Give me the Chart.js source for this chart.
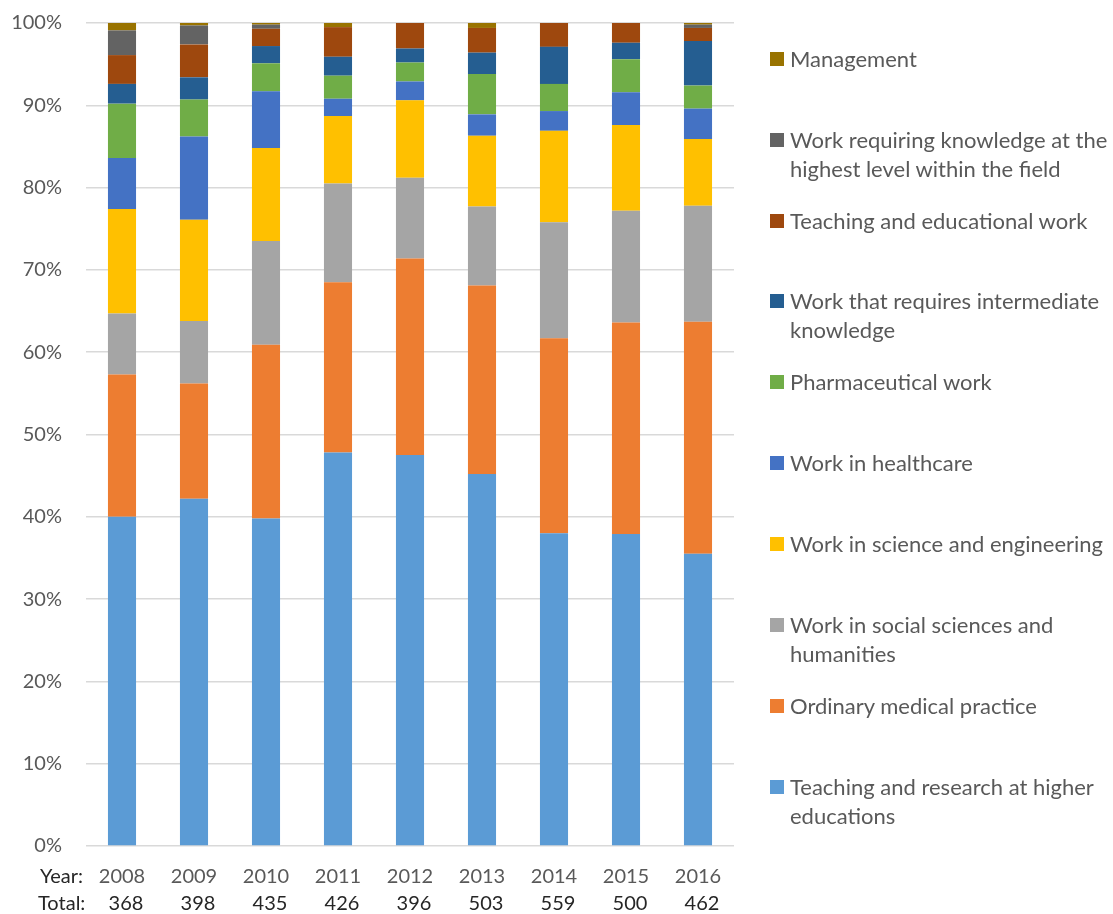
<!DOCTYPE html>
<html>
<head>
<meta charset="utf-8">
<script src="https://cdn.jsdelivr.net/npm/chart.js@4/dist/chart.umd.min.js"></script>
<style>
  body { margin: 0; background: #fff; overflow: hidden; }
  #wrap { position: relative; width: 1113px; height: 914px; }
  #legend { position: absolute; left: 0; top: 0; font-family: Lato, sans-serif; font-size: 22px; color: #595959; }
  .item { position: absolute; left: 770px; width: 330px; line-height: 29px; padding-left: 20px; }
  .box { position: absolute; left: 0; top: 8px; width: 14px; height: 14px; }
</style>
</head>
<body>
<div id="wrap">
  <canvas id="chart" width="1113" height="914"></canvas>
  <div id="legend"></div>
</div>
<script>
const years = ['2008', '2009', '2010', '2011', '2012', '2013', '2014', '2015', '2016'];
const totals = [368, 398, 435, 426, 396, 503, 559, 500, 462];

// shares in percent, bottom segment first
const teachingResearch = [40.0, 42.2, 39.8, 47.8, 47.5, 45.2, 38.0, 37.9, 35.5];
const medicalPractice  = [17.3, 14.0, 21.1, 20.7, 23.9, 22.9, 23.7, 25.7, 28.2];
const socialSciences   = [7.4, 7.6, 12.6, 12.0, 9.8, 9.6, 14.1, 13.6, 14.1];
const scienceEng       = [12.7, 12.3, 11.3, 8.2, 9.4, 8.6, 11.1, 10.4, 8.1];
const healthcare       = [6.2, 10.1, 6.9, 2.1, 2.3, 2.6, 2.4, 4.0, 3.7];
const pharmaceutical   = [6.6, 4.5, 3.4, 2.8, 2.3, 4.9, 3.3, 4.0, 2.8];
const intermediate     = [2.4, 2.7, 2.1, 2.3, 1.7, 2.6, 4.5, 2.0, 5.4];
const educational      = [3.5, 4.0, 2.1, 3.6, 3.1, 3.0, 2.9, 2.4, 1.6];
const highestLevel     = [3.0, 2.3, 0.5, 0, 0, 0, 0, 0, 0.4];
const management       = [0.9, 0.3, 0.2, 0.5, 0, 0.6, 0, 0, 0.2];

const series = [
  { label: 'Teaching and research at higher educations', data: teachingResearch, color: '#5B9BD5', top: 772 },
  { label: 'Ordinary medical practice', data: medicalPractice, color: '#ED7D31', top: 691 },
  { label: 'Work in social sciences and humanities', data: socialSciences, color: '#A5A5A5', top: 610 },
  { label: 'Work in science and engineering', data: scienceEng, color: '#FFC000', top: 529 },
  { label: 'Work in healthcare', data: healthcare, color: '#4472C4', top: 448 },
  { label: 'Pharmaceutical work', data: pharmaceutical, color: '#70AD47', top: 367 },
  { label: 'Work that requires intermediate knowledge', data: intermediate, color: '#255E91', top: 286 },
  { label: 'Teaching and educational work', data: educational, color: '#9E480E', top: 206 },
  { label: 'Work requiring knowledge at the highest level within the field', data: highestLevel, color: '#636363', top: 125 },
  { label: 'Management', data: management, color: '#997300', top: 44 }
];

const legend = document.getElementById('legend');
series.forEach(s => {
  const div = document.createElement('div');
  div.className = 'item';
  div.style.top = s.top + 'px';
  div.innerHTML = '<span class="box" style="background:' + s.color + '"></span>' + s.label;
  legend.appendChild(div);
});

const bottomLabels = {
  id: 'bottomLabels',
  afterDraw(chart) {
    const ctx = chart.ctx;
    const x = chart.scales.x;
    ctx.save();
    ctx.font = '20px Lato, sans-serif';
    ctx.textBaseline = 'middle';
    ctx.fillStyle = '#262626';
    ctx.textAlign = 'left';
    ctx.fillText('Year:', 40, 877);
    ctx.fillText('Total:', 38, 904);
    ctx.textAlign = 'center';
    totals.forEach((t, i) => {
      ctx.fillText(String(t), x.getPixelForValue(i) + 4, 904);
    });
    ctx.restore();
  }
};

new Chart(document.getElementById('chart'), {
  type: 'bar',
  data: {
    labels: years,
    datasets: series.map(s => ({
      label: s.label,
      data: s.data,
      backgroundColor: s.color,
      borderWidth: 0,
      barPercentage: 0.39,
      categoryPercentage: 1
    }))
  },
  options: {
    responsive: false,
    animation: false,
    layout: { padding: { top: 23, right: 379, left: 0, bottom: 0 } },
    plugins: { legend: { display: false }, tooltip: { enabled: false } },
    scales: {
      x: {
        stacked: true,
        grid: { display: false },
        border: { display: false },
        ticks: { color: '#595959', font: { family: 'Lato', size: 20 }, padding: 11 },
        afterFit: scale => { scale.height = 68; scale.paddingLeft = 0; scale.paddingRight = 0; }
      },
      y: {
        stacked: true,
        min: 0,
        max: 100,
        grid: { color: '#D9D9D9', lineWidth: 1.5, drawTicks: false },
        border: { display: false },
        ticks: {
          stepSize: 10,
          color: '#595959',
          font: { family: 'Lato', size: 20 },
          padding: 24,
          callback: v => v + '%'
        },
        afterFit: scale => { scale.width = 86; scale.paddingTop = 0; scale.paddingBottom = 0; }
      }
    }
  },
  plugins: [bottomLabels]
});
</script>
</body>
</html>
